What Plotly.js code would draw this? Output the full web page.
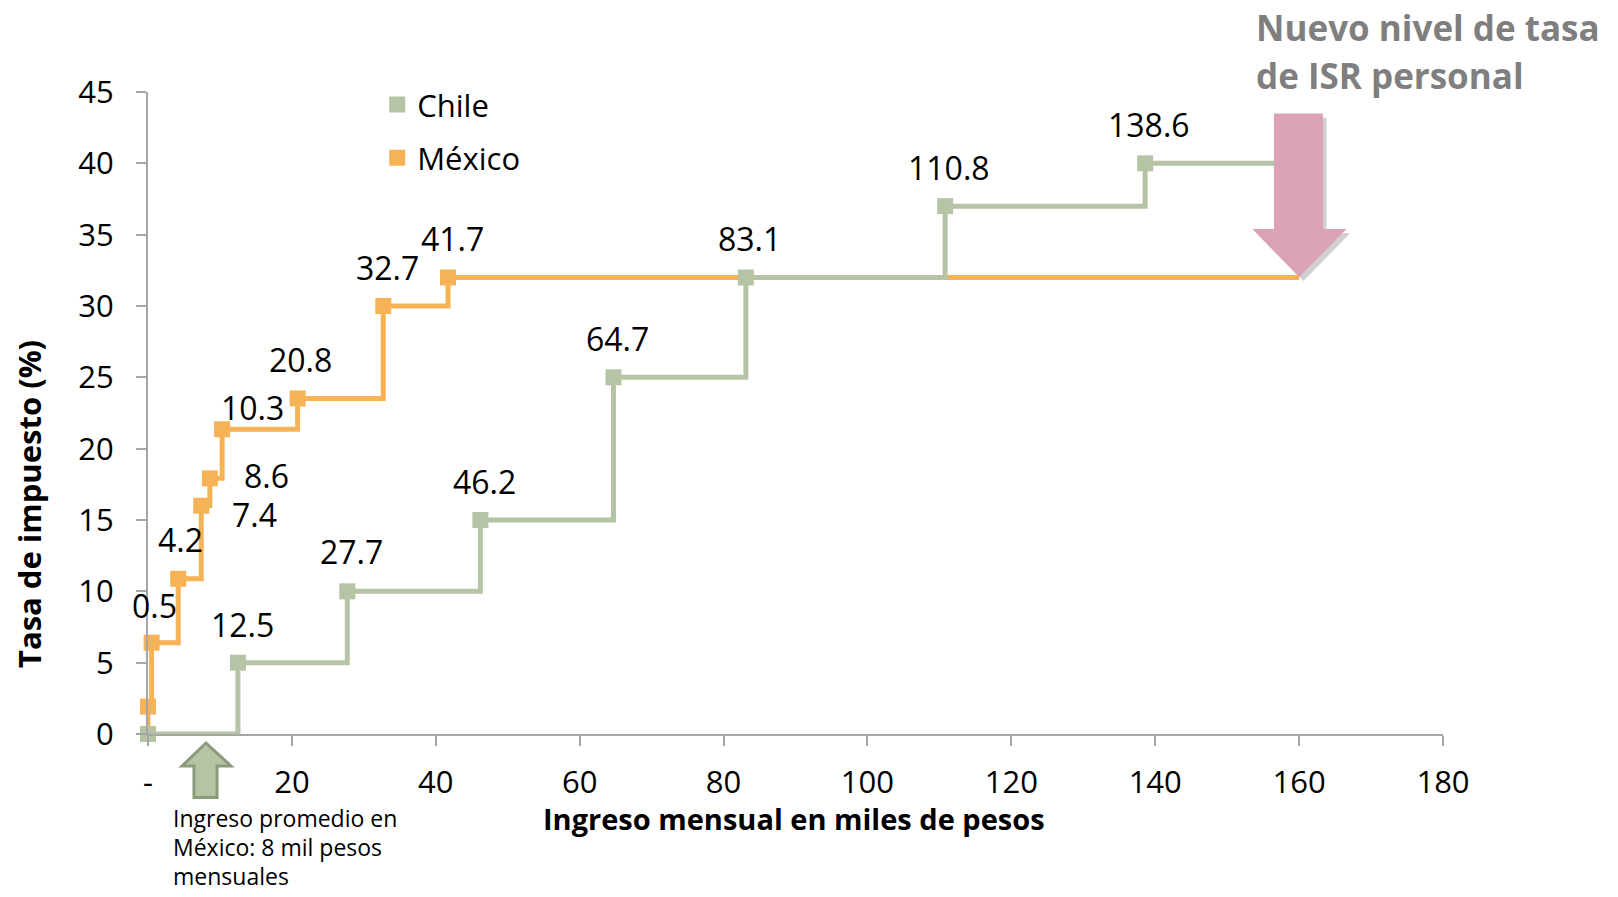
<!DOCTYPE html>
<html>
<head>
<meta charset="utf-8">
<script src="https://cdn.plot.ly/plotly-3.0.1.min.js"></script>
<style>html,body{margin:0;padding:0;background:#fff;}#chart{width:1618px;height:897px;}</style>
</head>
<body>
<div id="chart"></div>
<script>
// ---- data ----
const mexIncome = [0, 0.5, 4.2, 7.4, 8.6, 10.3, 20.8, 32.7, 41.7];
const mexRate   = [1.92, 6.4, 10.88, 16, 17.92, 21.36, 23.52, 30, 32];
const mexLabels = ['', '0.5', '4.2', '7.4', '8.6', '10.3', '20.8', '32.7', '41.7'];
const chileIncome = [0, 12.5, 27.7, 46.2, 64.7, 83.1, 110.8, 138.6];
const chileRate   = [0, 5, 10, 15, 25, 32, 37, 40];
const chileLabels = ['', '12.5', '27.7', '46.2', '64.7', '83.1', '110.8', '138.6'];
const lineEnd = 160;
const xTickVals = [0, 20, 40, 60, 80, 100, 120, 140, 160, 180];
const xTickText = ['-', '20', '40', '60', '80', '100', '120', '140', '160', '180'];
const yTickVals = [0, 5, 10, 15, 20, 25, 30, 35, 40, 45];
const noteLines = ['Ingreso promedio en', 'México: 8 mil pesos', 'mensuales'];
const calloutLines = ['Nuevo nivel de tasa', 'de ISR personal'];

// ---- styles ----
const FONT = 'Open Sans, sans-serif';
const ORANGE = '#F6B356';
const GREEN = '#B5C4A4';
const AXIS = '#A6A6A6';

// label pixel offsets (layout only)
const mexOffsets = [[0,0],[3,-37],[2,-39],[53,9],[57,-3],[30,-22],[3,-39],[4,-39],[4,-39]];
const chileOffsets = [[0,0],[5,-38],[4,-40],[4,-39],[4,-39],[4,-39],[4,-39],[4,-39]];

const mexLineX = [0].concat(mexIncome, [lineEnd]);
const mexLineY = [0].concat(mexRate, [mexRate[mexRate.length - 1]]);
const chileLineX = chileIncome.concat([lineEnd]);
const chileLineY = chileRate.concat([chileRate[chileRate.length - 1]]);

const traces = [
  {x: mexLineX, y: mexLineY, mode: 'lines', line: {shape: 'hv', color: ORANGE, width: 5}, showlegend: false, hoverinfo: 'skip', cliponaxis: false},
  {x: chileLineX, y: chileLineY, mode: 'lines', line: {shape: 'hv', color: GREEN, width: 5}, showlegend: false, hoverinfo: 'skip', cliponaxis: false},
  {x: mexIncome, y: mexRate, mode: 'markers', name: 'México', marker: {symbol: 'square', size: 16, color: ORANGE}, legendrank: 2, legendgroup: 'm', cliponaxis: false},
  {x: chileIncome, y: chileRate, mode: 'markers', name: 'Chile', marker: {symbol: 'square', size: 16, color: GREEN}, legendrank: 1, legendgroup: 'c', cliponaxis: false}
];

const annotations = [];
function addLabels(xs, ys, labels, offs) {
  for (let i = 0; i < xs.length; i++) {
    if (!labels[i]) continue;
    annotations.push({x: xs[i], y: ys[i], xref: 'x', yref: 'y', text: labels[i], showarrow: false,
      xshift: offs[i][0], yshift: -offs[i][1], font: {family: FONT, size: 32, color: '#000'}});
  }
}
addLabels(mexIncome, mexRate, mexLabels, mexOffsets);
addLabels(chileIncome, chileRate, chileLabels, chileOffsets);

annotations.push(
  {xref: 'paper', yref: 'paper', x: -0.092, y: 0.358, xanchor: 'center', yanchor: 'middle', text: '<b>Tasa de impuesto (%)</b>', textangle: -90, showarrow: false,
   font: {family: FONT, size: 31, color: '#000'}},
  {xref: 'paper', yref: 'paper', x: 0.4985, y: -0.132, xanchor: 'center', yanchor: 'middle', showarrow: false,
   text: '<b>Ingreso mensual en miles de pesos</b>', font: {family: FONT, size: 29, color: '#000'}}
);
noteLines.forEach((t, i) => annotations.push({
  xref: 'paper', yref: 'paper', x: 0.0175, y: -0.1308 - i * 0.0452, xanchor: 'left', yanchor: 'middle', showarrow: false,
  text: t, font: {family: FONT, size: 23, color: '#000'}}));
calloutLines.forEach((t, i) => annotations.push({
  xref: 'paper', yref: 'paper', x: 0.854, y: 1.0997 - i * 0.0737, xanchor: 'left', yanchor: 'middle', showarrow: false,
  text: '<b>' + t + '</b>', font: {family: FONT, size: 35, color: '#7F7F7F'}}));

const shapes = [
  // shadow of pink arrow
  {type: 'path', xref: 'x', yref: 'y', layer: 'above', line: {width: 0}, fillcolor: 'rgba(120,120,120,0.35)',
   path: 'M157.0,43.2 L163.8,43.2 L163.8,35.1 L167.1,35.1 L160.6,31.75 L154.1,35.1 L157.0,35.1 Z'},
  {type: 'path', xref: 'x', yref: 'y', layer: 'above', line: {width: 0}, fillcolor: '#DBA1B4',
   path: 'M156.5,43.5 L163.3,43.5 L163.3,35.4 L166.6,35.4 L160,32.03 L153.5,35.4 L156.5,35.4 Z'},
  // green up arrow
  {type: 'path', xref: 'paper', yref: 'paper', layer: 'above', line: {width: 3, color: '#8C9A7C'}, fillcolor: '#B6C4A4',
   path: 'M0.0448,-0.014 L0.0641,-0.0498 L0.0533,-0.0498 L0.0533,-0.0988 L0.0355,-0.0988 L0.0355,-0.0498 L0.0263,-0.0498 Z'}
];

const layout = {
  width: 1618, height: 897,
  margin: {l: 148, r: 175, t: 92, b: 163},
  paper_bgcolor: '#fff', plot_bgcolor: '#fff',
  font: {family: FONT, color: '#000'},
  showlegend: true,
  legend: {x: 0.177, y: 1.022, xanchor: 'left', yanchor: 'top', font: {family: FONT, size: 31, color: '#000'},
           bgcolor: 'rgba(0,0,0,0)', tracegroupgap: 10, itemwidth: 30, traceorder: 'grouped'},
  xaxis: {range: [0, 180], tickvals: xTickVals, ticktext: xTickText, showgrid: false, zeroline: false,
          showline: true, linecolor: AXIS, linewidth: 2, ticks: 'outside', tickcolor: AXIS, tickwidth: 2, ticklen: 10,
          tickfont: {family: FONT, size: 31, color: '#000'}, ticklabelstandoff: 10, fixedrange: true},
  yaxis: {range: [0, 45], tickvals: yTickVals, showgrid: false, zeroline: false,
          showline: true, linecolor: AXIS, linewidth: 2, ticks: 'outside', tickcolor: AXIS, tickwidth: 2, ticklen: 10,
          tickfont: {family: FONT, size: 31, color: '#000'}, ticklabelstandoff: 16, fixedrange: true},
  annotations: annotations,
  shapes: shapes
};

Plotly.newPlot('chart', traces, layout, {displayModeBar: false, staticPlot: true});
</script>
</body>
</html>
